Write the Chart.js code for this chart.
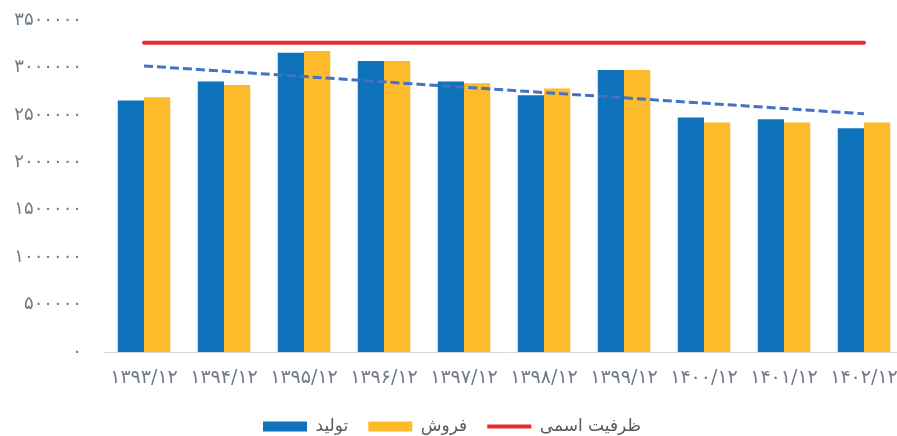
<!DOCTYPE html>
<html>
<head>
<meta charset="utf-8">
<script src="https://cdn.jsdelivr.net/npm/chart.js@4.4.1/dist/chart.umd.min.js"></script>
<style>
  html, body { margin: 0; padding: 0; background: #ffffff; overflow: hidden; }
  #wrap { width: 897px; height: 436px; position: relative; overflow: hidden; }
  #c { position: absolute; left: 0; top: 0; }
</style>
</head>
<body>
<div id="wrap"><canvas id="c" width="904" height="436"></canvas></div>
<script>
// ---- data ----
const categories = ['۱۳۹۳/۱۲', '۱۳۹۴/۱۲', '۱۳۹۵/۱۲', '۱۳۹۶/۱۲', '۱۳۹۷/۱۲', '۱۳۹۸/۱۲', '۱۳۹۹/۱۲', '۱۴۰۰/۱۲', '۱۴۰۱/۱۲', '۱۴۰۲/۱۲'];
const production = [2651000, 2851000, 3156000, 3068000, 2851000, 2707000, 2974000, 2472000, 2455000, 2360000];
const sales = [2686000, 2816000, 3174000, 3068000, 2834000, 2777000, 2974000, 2419000, 2419000, 2419000];
const capacity = [3260000, 3260000, 3260000, 3260000, 3260000, 3260000, 3260000, 3260000, 3260000, 3260000];
const trend = [3016000, null, null, null, null, null, null, null, null, 2511000];
const yTickValues = [0, 500000, 1000000, 1500000, 2000000, 2500000, 3000000, 3500000];
const yTickLabels = ['۰', '۵۰۰۰۰۰', '۱۰۰۰۰۰۰', '۱۵۰۰۰۰۰', '۲۰۰۰۰۰۰', '۲۵۰۰۰۰۰', '۳۰۰۰۰۰۰', '۳۵۰۰۰۰۰'];
const seriesNames = ['تولید', 'فروش', 'ظرفیت اسمی'];

const BLUE = '#0E73BB', YELLOW = '#FDBB2B', RED = '#EA2A2D', TREND = '#4472C4';
const FONT = "'DejaVu Sans', sans-serif";

const chart = new Chart(document.getElementById('c'), {
  data: {
    labels: categories,
    datasets: [
      { type: 'line', label: seriesNames[2], data: capacity, borderColor: RED, backgroundColor: RED,
        borderWidth: 4, pointRadius: 0, order: 0, borderCapStyle: 'round' },
      { type: 'line', label: 'trend', data: trend, borderColor: TREND, backgroundColor: TREND,
        borderWidth: 3, borderDash: [9, 4], pointRadius: 0, spanGaps: true, order: 0 },
      { type: 'bar', label: seriesNames[0], data: production, backgroundColor: BLUE,
        categoryPercentage: 0.656, barPercentage: 1.0, order: 1 },
      { type: 'bar', label: seriesNames[1], data: sales, backgroundColor: YELLOW,
        categoryPercentage: 0.656, barPercentage: 1.0, order: 1 }
    ]
  },
  options: {
    responsive: false,
    animation: false,
    layout: { padding: { top: 20, right: 0, left: 0, bottom: 0 } },
    scales: {
      x: {
        offset: true,
        grid: { display: false, drawTicks: false },
        border: { display: true, color: '#D9D9D9', width: 1 },
        ticks: { color: '#6F7A86', font: { family: FONT, size: 19 }, padding: 15, maxRotation: 0, autoSkip: false },
        afterFit: s => { s.height = 46; s.paddingLeft = 0; s.paddingRight = 0; }
      },
      y: {
        min: 0, max: 3500000,
        grid: { display: false, drawTicks: false },
        border: { display: false },
        afterBuildTicks: s => { s.ticks = yTickValues.map(v => ({ value: v })); },
        ticks: {
          color: '#6F7A86', font: { family: FONT, size: 18 }, padding: 22,
          callback: (v) => { const i = yTickValues.indexOf(v); return i >= 0 ? yTickLabels[i] : ''; }
        },
        afterFit: s => { s.width = 104; s.paddingTop = 0; s.paddingBottom = 0; }
      }
    },
    plugins: {
      tooltip: { enabled: false },
      legend: {
        position: 'bottom',
        maxHeight: 38,
        labels: {
          usePointStyle: true,
          pointStyleWidth: 44,
          boxHeight: 10,
          padding: 20,
          color: '#595959',
          font: { family: FONT, size: 17 },
          generateLabels: (chart) => {
            const ds = chart.data.datasets;
            return [
              { text: ds[2].label, fillStyle: BLUE, strokeStyle: BLUE, lineWidth: 0, pointStyle: 'rect', datasetIndex: 2, fontColor: '#595959' },
              { text: ds[3].label, fillStyle: YELLOW, strokeStyle: YELLOW, lineWidth: 0, pointStyle: 'rect', datasetIndex: 3, fontColor: '#595959' },
              { text: ds[0].label, fillStyle: RED, strokeStyle: RED, lineWidth: 4, pointStyle: 'line', datasetIndex: 0, fontColor: '#595959' }
            ];
          }
        }
      }
    }
  }
});
</script>
</body>
</html>
